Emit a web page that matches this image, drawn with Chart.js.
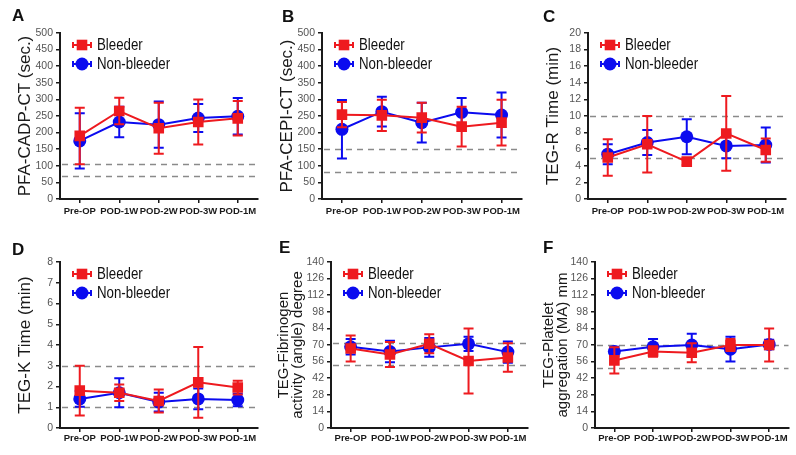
<!DOCTYPE html>
<html>
<head>
<meta charset="utf-8">
<script src="https://cdn.jsdelivr.net/npm/chart.js@4.4.1/dist/chart.umd.min.js"></script>
<style>
  html, body { margin: 0; padding: 0; background: #fff; }
  #wrap { position: relative; width: 796px; height: 455px; overflow: hidden; }
  #wrap canvas { position: absolute; }
</style>
</head>
<body>
<div id="wrap"></div>
<script>
const labels = ['Pre-OP', 'POD-1W', 'POD-2W', 'POD-3W', 'POD-1M'];

// A  PFA-CADP-CT
const bleederA = [190, 265, 213, 232, 243];
const bleederA_sd = [85, 40, 77, 68, 52];
const nonA = [175, 232, 224, 244, 249];
const nonA_sd = [83, 46, 70, 42, 55];
const refA = [106, 70];

// B  PFA-CEPI-CT
const bleederB = [254, 252, 245, 218, 230];
const bleederB_sd = [38, 47, 45, 60, 69];
const nonB = [210, 263, 230, 261, 253];
const nonB_sd = [88, 45, 60, 43, 68];
const refB = [150, 80];

// C  TEG-R
const bleederC = [5.0, 6.6, 4.5, 7.9, 5.9];
const bleederC_sd = [2.2, 3.4, 0.4, 4.5, 1.4];
const nonC = [5.4, 6.8, 7.5, 6.4, 6.5];
const nonC_sd = [1.2, 1.5, 2.1, 1.5, 2.1];
const refC = [10, 5];

// D  TEG-K
const bleederD = [1.8, 1.7, 1.3, 2.2, 1.95];
const bleederD_sd = [1.2, 0.4, 0.55, 1.7, 0.33];
const nonD = [1.4, 1.7, 1.25, 1.4, 1.35];
const nonD_sd = [0.38, 0.7, 0.45, 0.5, 0.3];
const refD = [3, 1];

// E  TEG angle
const bleederE = [67, 62, 71, 56.5, 59.5];
const bleederE_sd = [11, 10.5, 8, 27.5, 12];
const nonE = [68.5, 64.5, 68, 71, 64];
const nonE_sd = [6.5, 9, 8, 6, 9];
const refE = [72, 53];

// F  TEG MA
const bleederF = [57, 64.5, 63.5, 70, 70];
const bleederF_sd = [11, 4.5, 8, 5, 14];
const nonF = [64.5, 68.5, 70, 66.5, 70.5];
const nonF_sd = [4, 6.5, 9.5, 10.5, 4];
const refF = [70, 51];

const RED = '#ee1a1f';
const BLUE = '#0b0bef';
const SANS = "'Liberation Sans', Arial, sans-serif";

// layout of each panel (absolute px in the 796x455 page)
const panels = [
  { letter: 'A', left: 0, top: 0, h: 220, cl: 60, cr: 265, ct: 33, cb: 199, lx: 12, ly: 16, xpad: 3,
    title: 'PFA-CADP-CT (sec.)', tx: 25, max: 500, step: 50,
    b: bleederA, bsd: bleederA_sd, n: nonA, nsd: nonA_sd, ref: refA },
  { letter: 'B', left: 266, top: 0, h: 220, cl: 322, cr: 529, ct: 33, cb: 199, lx: 282, ly: 17, xpad: 3,
    title: 'PFA-CEPI-CT (sec.)', tx: 287, max: 500, step: 50,
    b: bleederB, bsd: bleederB_sd, n: nonB, nsd: nonB_sd, ref: refB },
  { letter: 'C', left: 530, top: 0, h: 220, cl: 588, cr: 793, ct: 33, cb: 199, lx: 543, ly: 17, xpad: 3,
    title: 'TEG-R Time (min)', tx: 553, max: 20, step: 2,
    b: bleederC, bsd: bleederC_sd, n: nonC, nsd: nonC_sd, ref: refC },
  { letter: 'D', left: 0, top: 220, h: 235, cl: 60, cr: 265, ct: 42, cb: 208, lx: 12, ly: 30, xpad: 1,
    title: 'TEG-K Time (min)', tx: 25, max: 8, step: 1,
    b: bleederD, bsd: bleederD_sd, n: nonD, nsd: nonD_sd, ref: refD },
  { letter: 'E', left: 266, top: 220, h: 235, cl: 331, cr: 535, ct: 42, cb: 208, lx: 279, ly: 28, xpad: 1,
    title: ['TEG-Fibrinogen', 'activity (angle) degree'], tx: 284, max: 140, step: 14,
    b: bleederE, bsd: bleederE_sd, n: nonE, nsd: nonE_sd, ref: refE },
  { letter: 'F', left: 535, top: 220, h: 235, cl: 595, cr: 796, ct: 42, cb: 208, lx: 543, ly: 28, xpad: 1,
    title: ['TEG-Platelet', 'aggregation (MA) mm'], tx: 549, max: 140, step: 14,
    b: bleederF, bsd: bleederF_sd, n: nonF, nsd: nonF_sd, ref: refF }
];

const extras = {
  id: 'extras',
  beforeDatasetsDraw(chart, args, opts) {
    const ctx = chart.ctx;
    const y = chart.scales.y;
    const area = chart.chartArea;
    ctx.save();
    ctx.strokeStyle = '#8a8a8a';
    ctx.lineWidth = 1.5;
    ctx.setLineDash([6, 5]);
    opts.ref.forEach(v => {
      const py = Math.round(y.getPixelForValue(v)) + 0.5;
      ctx.beginPath();
      ctx.moveTo(area.left + 2, py);
      ctx.lineTo(area.right, py);
      ctx.stroke();
    });
    ctx.restore();
  },
  beforeDatasetDraw(chart, args) {
    const ds = chart.data.datasets[args.index];
    const y = chart.scales.y;
    const ctx = chart.ctx;
    ctx.save();
    ctx.strokeStyle = ds.borderColor;
    ctx.lineWidth = 2;
    args.meta.data.forEach((pt, i) => {
      const hi = y.getPixelForValue(ds.data[i] + ds.sd[i]);
      const lo = y.getPixelForValue(Math.max(0, ds.data[i] - ds.sd[i]));
      ctx.beginPath();
      ctx.moveTo(pt.x, hi); ctx.lineTo(pt.x, lo);
      ctx.moveTo(pt.x - 5, hi); ctx.lineTo(pt.x + 5, hi);
      ctx.moveTo(pt.x - 5, lo); ctx.lineTo(pt.x + 5, lo);
      ctx.stroke();
    });
    ctx.restore();
  },
  afterDraw(chart, args, opts) {
    const ctx = chart.ctx;
    const area = chart.chartArea;
    ctx.save();
    // panel letter
    ctx.fillStyle = '#111';
    ctx.font = 'bold 17px ' + SANS;
    ctx.textBaseline = 'middle';
    ctx.textAlign = 'left';
    ctx.fillText(opts.letter, opts.lx, opts.ly);
    // legend inside the plot
    chart.data.datasets.forEach((ds, i) => {
      const mx = area.left + 22;
      const my = area.top + 12 + i * 19;
      ctx.strokeStyle = ds.borderColor;
      ctx.fillStyle = ds.backgroundColor;
      ctx.lineWidth = 2;
      ctx.beginPath();
      ctx.moveTo(mx - 9, my); ctx.lineTo(mx + 9, my);
      ctx.moveTo(mx - 9, my - 3); ctx.lineTo(mx - 9, my + 3);
      ctx.moveTo(mx + 9, my - 3); ctx.lineTo(mx + 9, my + 3);
      ctx.stroke();
      Chart.helpers.drawPoint(ctx, {
        pointStyle: ds.pointStyle, radius: ds.pointRadius, rotation: 0, borderWidth: 0
      }, mx, my);
      // narrow look like the original figure
      ctx.save();
      ctx.translate(area.left + 37, my + 1);
      ctx.scale(0.83, 1);
      ctx.fillStyle = '#111';
      ctx.font = '16px ' + SANS;
      ctx.fillText(ds.label, 0, 0);
      ctx.restore();
    });
    ctx.restore();
  }
};

const wrap = document.querySelector('#wrap');

panels.forEach(p => {
  const canvas = document.createElement('canvas');
  const w = Math.min(796, p.cr) - p.left;
  canvas.width = w;
  canvas.height = p.h;
  canvas.style.left = p.left + 'px';
  canvas.style.top = p.top + 'px';
  canvas.style.width = w + 'px';
  canvas.style.height = p.h + 'px';
  wrap.appendChild(canvas);

  const multi = Array.isArray(p.title);
  const titleFont = multi ? { family: SANS, size: 15, lineHeight: 0.9 } : { family: SANS, size: 17, lineHeight: 1.2 };
  const half = multi ? 15 * 0.9 / 2 : 17 * 1.2 / 2;
  const axisW = p.cl - p.left;
  const axisH = p.h - p.cb;

  const axisLine = { display: true, color: '#1a1a1a', width: 2 };
  const tickGrid = { display: true, drawOnChartArea: false, drawTicks: true, tickLength: 4, color: '#1a1a1a', lineWidth: 1.5 };

  new Chart(canvas, {
    type: 'line',
    data: {
      labels: labels,
      datasets: [
        {
          label: 'Bleeder', data: p.b, sd: p.bsd,
          borderColor: RED, backgroundColor: RED, borderWidth: 2,
          pointStyle: 'rect', pointRadius: 7.5, pointBorderWidth: 0, pointHoverRadius: 7.5
        },
        {
          label: 'Non-bleeder', data: p.n, sd: p.nsd,
          borderColor: BLUE, backgroundColor: BLUE, borderWidth: 2,
          pointStyle: 'circle', pointRadius: 6.5, pointBorderWidth: 0, pointHoverRadius: 6.5
        }
      ]
    },
    options: {
      responsive: false,
      animation: false,
      devicePixelRatio: 1,
      layout: { padding: { left: 0, top: p.ct, right: Math.min(796, p.cr) - p.cr, bottom: 0 } },
      plugins: {
        legend: { display: false },
        tooltip: { enabled: false },
        extras: { letter: p.letter, lx: p.lx - p.left, ly: p.ly, ref: p.ref }
      },
      scales: {
        x: {
          offset: true,
          grid: tickGrid,
          border: axisLine,
          ticks: { color: '#1a1a1a', padding: p.xpad, maxRotation: 0, autoSkip: false,
                   font: { family: SANS, size: 9.5, weight: 'bold' } },
          afterFit: s => { s.height = axisH; }
        },
        y: {
          min: 0, max: p.max,
          grid: tickGrid,
          border: axisLine,
          ticks: { stepSize: p.step, color: '#555', padding: 3, autoSkip: false,
                   font: { family: SANS, size: 10.5 } },
          title: { display: true, text: p.title, color: '#1a1a1a', font: titleFont,
                   padding: { top: p.tx - p.left - half, bottom: 0 } },
          afterFit: s => { s.width = axisW; }
        }
      }
    },
    plugins: [extras]
  });
});
</script>
</body>
</html>
